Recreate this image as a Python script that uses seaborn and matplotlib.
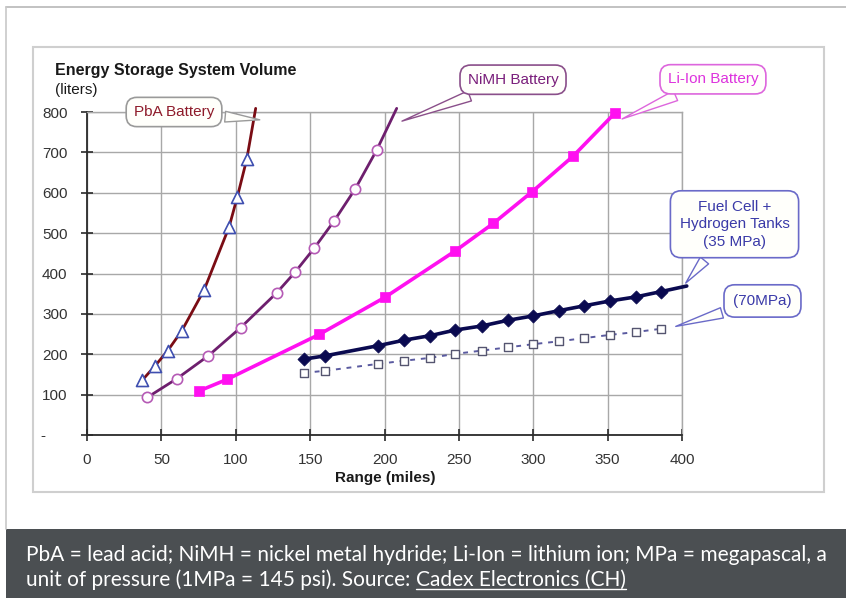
import matplotlib
matplotlib.use("Agg")
import matplotlib.pyplot as plt
import seaborn as sns
from matplotlib.patches import Rectangle
from matplotlib.lines import Line2D

# ---------------- data ----------------
pba_range = [37.2, 45.7, 54.3, 63.7, 78.7, 95.5, 101.0, 107.4]
pba_volume = [136, 171, 209, 258, 359, 515, 589, 683]
pba_curve_end = [113.4, 809]

nimh_range = [40.5, 60.2, 81.5, 103.3, 127.5, 139.8, 152.6, 166.3, 180.4, 194.8]
nimh_volume = [93, 139, 196, 266, 352, 403, 462, 531, 610, 706]
nimh_curve_end = [208.2, 809]

liion_range = [75.3, 94.3, 156.1, 200.3, 247.6, 273.1, 299.4, 326.9, 354.8]
liion_volume = [109, 138, 249, 341, 456, 524, 603, 691, 797]

fc_range = [145.9, 160.0, 195.4, 213.3, 230.6, 247.6, 265.3, 282.8, 300.0,
            317.3, 334.3, 351.6, 368.9, 385.7]
fc35_volume = [188, 196, 221, 235, 246, 260, 270, 284, 295, 308, 320, 332, 342, 355]
fc35_line_end = [403.2, 369]
fc70_volume = [154, 159, 176, 184, 191, 201, 209, 217, 225, 232, 240, 248, 255, 263]

x_ticks = [0, 50, 100, 150, 200, 250, 300, 350, 400]
y_ticks = [0, 100, 200, 300, 400, 500, 600, 700, 800]
y_tick_labels = ["-     ", "100", "200", "300", "400", "500", "600", "700", "800"]

title_text = "Energy Storage System Volume"
unit_text = "(liters)"
xlabel_text = "Range (miles)"
caption_line1 = ("PbA = lead acid; NiMH = nickel metal hydride; Li-Ion = lithium ion; "
                 "MPa = megapascal, a")
caption_line2a = "unit of pressure (1MPa = 145 psi). Source: "
caption_line2b = "Cadex Electronics (CH)"

# ---------------- style ----------------
sns.set_style("white")
plt.rcParams["font.family"] = ["Liberation Sans", "DejaVu Sans"]

W, H = 846, 598
fig = plt.figure(figsize=(W / 100, H / 100), dpi=100)
fig.patch.set_facecolor("white")


def fx(px):
    return px / W


def fy(py):
    return 1 - py / H


# outer frame lines and chart box
fig.add_artist(Line2D([fx(6), 1], [fy(7), fy(7)], color="#b8b8b8", lw=1.2))
fig.add_artist(Line2D([fx(6), fx(6)], [fy(7), fy(529)], color="#c8c8c8", lw=1.2))
fig.add_artist(Rectangle((fx(33), fy(492)), fx(824) - fx(33), fy(47) - fy(492),
                         transform=fig.transFigure, fill=False, ec="#cfcfcf", lw=1.5))
fig.add_artist(Rectangle((fx(6), 0), 1 - fx(6), fy(529),
                         transform=fig.transFigure, fc="#4b4f52", ec="none"))

ax = fig.add_axes([fx(87), fy(435), fx(682) - fx(87), fy(112) - fy(435)])
ax.set_facecolor("white")

# ---------------- series ----------------
sns.lineplot(x=pba_range + [pba_curve_end[0]], y=pba_volume + [pba_curve_end[1]],
             ax=ax, color="#7a0c14", lw=2.0, sort=False, clip_on=False, zorder=3)
sns.scatterplot(x=pba_range, y=pba_volume, ax=ax, marker="^", s=75,
                facecolor="white", edgecolor="#3f4fb0", linewidth=1.2, zorder=4)

sns.lineplot(x=nimh_range + [nimh_curve_end[0]], y=nimh_volume + [nimh_curve_end[1]],
             ax=ax, color="#6e1f6e", lw=2.0, sort=False, clip_on=False, zorder=3)
sns.scatterplot(x=nimh_range, y=nimh_volume, ax=ax, marker="o", s=55,
                facecolor="white", edgecolor="#b55ab5", linewidth=1.2, zorder=4)

sns.lineplot(x=liion_range, y=liion_volume, ax=ax, color="#ff10f0", lw=2.6,
             sort=False, clip_on=False, zorder=3)
sns.scatterplot(x=liion_range, y=liion_volume, ax=ax, marker="s", s=50,
                color="#ff10f0", edgecolor="#ff10f0", linewidth=0.5, zorder=4,
                clip_on=False)

sns.lineplot(x=fc_range + [fc35_line_end[0]], y=fc35_volume + [fc35_line_end[1]],
             ax=ax, color="#0a0a50", lw=2.6, sort=False, clip_on=False, zorder=3)
sns.scatterplot(x=fc_range, y=fc35_volume, ax=ax, marker="D", s=45,
                color="#0a0a50", edgecolor="#0a0a50", linewidth=0.5, zorder=4)

sns.lineplot(x=fc_range, y=fc70_volume, ax=ax, color="#5a5aa0", lw=1.4,
             linestyle=(0, (2.5, 3)), sort=False, zorder=3)
sns.scatterplot(x=fc_range, y=fc70_volume, ax=ax, marker="s", s=38,
                facecolor="white", edgecolor="#555570", linewidth=1.0, zorder=4)

# ---------------- axes ----------------
ax.set_xlim(0, 400)
ax.set_ylim(0, 800)
ax.set_xticks(x_ticks)
ax.set_yticks(y_ticks)
ax.set_xticklabels([str(t) for t in x_ticks])
ax.set_yticklabels(y_tick_labels)
ax.grid(True, color="#a8a8a8", lw=1.0)
ax.set_axisbelow(True)
for side in ["top", "right"]:
    ax.spines[side].set_color("#a8a8a8")
    ax.spines[side].set_linewidth(1.0)
for side in ["left", "bottom"]:
    ax.spines[side].set_color("#2a2a2a")
    ax.spines[side].set_linewidth(1.3)
ax.tick_params(axis="both", direction="inout", length=8, width=1.2, color="#2a2a2a",
               labelsize=11, labelcolor="#333333", bottom=True, left=True)
ax.tick_params(axis="y", pad=10)
ax.tick_params(axis="x", pad=9)
ax.set_xlabel("")
ax.set_ylabel("")

fig.text(fx(55), fy(70), title_text, fontsize=11.5, fontweight="bold",
         color="#1a1a1a", va="center", ha="left")
fig.text(fx(55), fy(90), unit_text, fontsize=11, color="#1a1a1a", va="center", ha="left")
fig.text(fx(385), fy(478), xlabel_text, fontsize=11, fontweight="bold",
         color="#1a1a1a", va="center", ha="center")


# ---------------- callouts ----------------
def callout(text, xy, xytext, tcolor, ecolor, pad=0.5):
    ax.annotate(text, xy=xy, xytext=xytext, textcoords="data", xycoords="data",
                fontsize=11, color=tcolor, ha="center", va="center",
                annotation_clip=False, zorder=6, linespacing=1.3,
                family=["Liberation Sans", "DejaVu Sans"],
                bbox=dict(boxstyle=f"round,pad={pad},rounding_size=0.7",
                          fc="#fffffb", ec=ecolor, lw=1.2),
                arrowprops=dict(arrowstyle="wedge,tail_width=0.7,shrink_factor=0.5",
                                fc="#fffffb", ec=ecolor, lw=1.0))


callout("PbA Battery", (118, 780), (58.5, 800), "#8e1b2a", "#9a9a9a")
callout("NiMH Battery", (210, 775), (286.4, 880), "#7a1f7a", "#8a4f8a")
callout("Li-Ion Battery", (358, 780), (420.8, 881), "#dd33dd", "#dd66dd")
callout("Fuel Cell +\nHydrogen Tanks\n(35 MPa)", (401.3, 371), (435.3, 522),
        "#3a3aa8", "#6a6ac8", pad=0.6)
callout("(70MPa)", (394, 267), (454.1, 332), "#3a3aa8", "#6a6ac8", pad=0.6)

# ---------------- caption ----------------
cap_font = ["Lato", "DejaVu Sans"]
t1 = fig.text(fx(26), fy(555), caption_line1, fontsize=12, color="white",
              family=cap_font, va="center", ha="left")
t2a = fig.text(fx(26), fy(580), caption_line2a, fontsize=12, color="white",
               family=cap_font, va="center", ha="left")
fig.canvas.draw()
r = fig.canvas.get_renderer()
bb1 = t1.get_window_extent(r)
target = 822 - 26
fs = 12 * target / bb1.width
t1.set_fontsize(fs)
t2a.set_fontsize(fs)
fig.canvas.draw()
bb2 = t2a.get_window_extent(r)
t2b = fig.text(bb2.x1 / W, fy(580), caption_line2b, fontsize=fs, color="white",
               family=cap_font, va="center", ha="left")
fig.canvas.draw()
bb3 = t2b.get_window_extent(r)
fig.add_artist(Line2D([bb3.x0 / W, bb3.x1 / W], [(bb3.y0 + 1) / H, (bb3.y0 + 1) / H],
                      color="white", lw=1.0))

fig.savefig("out.png", dpi=100)
